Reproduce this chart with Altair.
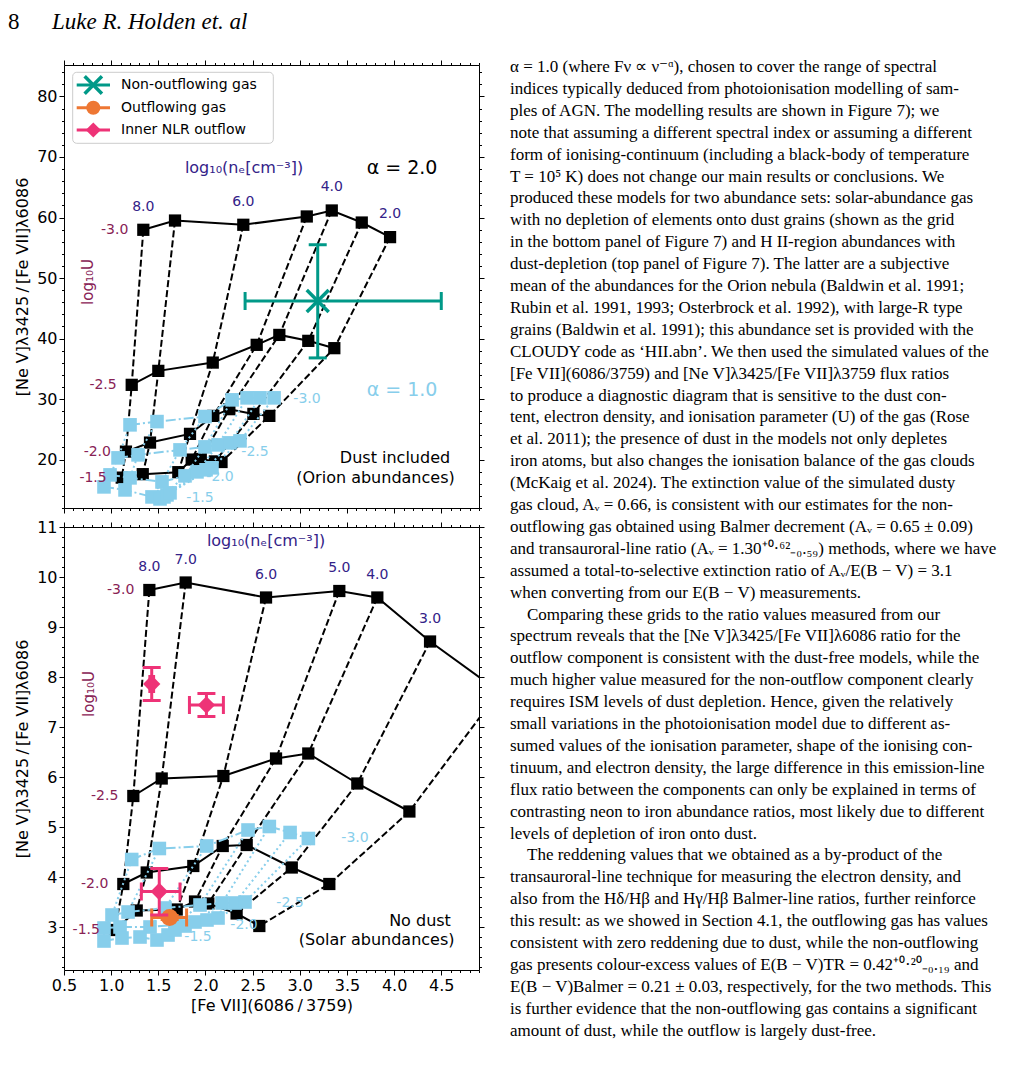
import altair as alt
import numpy as np
import pandas as pd

# ------------------------------------------------------------------ data
DENS = [8.0, 7.0, 6.0, 5.0, 4.0, 3.0, 2.0]          # log10(n_e)
LOGU = [-3.0, -2.5, -2.0, -1.5]                      # log10(U)

# top panel: dust included (Orion abundances), alpha = 2.0
top_a2_x_m30 = [1.341, 1.677, 2.401, 3.074, 3.339, 3.657, 3.957]
top_a2_y_m30 = [57.97, 59.50, 58.80, 60.17, 61.16, 59.17, 56.76]
top_a2_x_m25 = [1.218, 1.500, 2.077, 2.543, 2.783, 3.090, 3.366]
top_a2_y_m25 = [32.35, 34.66, 36.03, 38.96, 40.60, 39.62, 38.41]
top_a2_x_m20 = [1.157, 1.412, 1.836, 2.083, 2.253, 2.508, 2.677]
top_a2_y_m20 = [21.32, 22.81, 24.25, 27.22, 28.33, 27.55, 27.22]
top_a2_x_m15 = [1.112, 1.335, 1.712, 1.854, 1.950, 2.100, 2.170]
top_a2_y_m15 = [17.02, 17.59, 17.92, 20.00, 20.10, 19.70, 19.60]

# top panel, alpha = 1.0
top_a1_x_m30 = [1.200, 1.486, 1.995, 2.282, 2.441, 2.578, 2.727]
top_a1_y_m30 = [25.74, 26.28, 27.11, 29.87, 30.20, 30.20, 30.20]
top_a1_x_m25 = [1.073, 1.285, 1.730, 1.995, 2.133, 2.260, 2.366]
top_a1_y_m25 = [20.28, 20.78, 21.60, 22.10, 22.43, 22.76, 23.09]
top_a1_x_m20 = [0.988, 1.200, 1.539, 1.783, 1.910, 2.006, 2.069]
top_a1_y_m20 = [17.47, 16.98, 16.31, 17.31, 17.97, 18.31, 18.64]
top_a1_x_m15 = [0.924, 1.147, 1.433, 1.518, 1.560, 1.592, 1.624]
top_a1_y_m15 = [15.49, 14.99, 13.83, 13.50, 13.83, 14.16, 14.50]

# bottom panel: no dust (solar abundances), alpha = 2.0
bot_a2_x_m30 = [1.405, 1.790, 2.642, 3.419, 3.822, 4.381, 5.113]
bot_a2_y_m30 = [9.74, 9.89, 9.59, 9.72, 9.59, 8.71, 7.71]
bot_a2_x_m25 = [1.235, 1.536, 2.190, 2.748, 3.090, 3.610, 4.162]
bot_a2_y_m25 = [5.62, 5.97, 6.02, 6.37, 6.47, 5.87, 5.31]
bot_a2_x_m20 = [1.129, 1.377, 1.871, 2.183, 2.437, 2.915, 3.313]
bot_a2_y_m20 = [3.86, 4.09, 4.22, 4.62, 4.64, 4.19, 3.86]
bot_a2_x_m15 = [1.040, 1.271, 1.695, 1.889, 2.030, 2.330, 2.571]
bot_a2_y_m15 = [2.94, 3.33, 3.35, 3.51, 3.47, 3.27, 3.02]

# bottom panel, alpha = 1.0
bot_a1_x_m30 = [1.218, 1.511, 2.013, 2.451, 2.677, 2.897, 3.091]
bot_a1_y_m30 = [4.35, 4.57, 4.62, 4.94, 5.01, 4.89, 4.77]
bot_a1_x_m25 = [1.009, 1.179, 1.571, 1.942, 2.176, 2.313, 2.419]
bot_a1_y_m25 = [3.24, 3.30, 3.38, 3.44, 3.48, 3.48, 3.50]
bot_a1_x_m20 = [0.924, 1.094, 1.412, 1.677, 1.889, 2.016, 2.133]
bot_a1_y_m20 = [2.98, 3.00, 3.00, 3.04, 3.10, 3.14, 3.18]
bot_a1_x_m15 = [0.924, 1.115, 1.306, 1.486, 1.603, 1.677, 1.783]
bot_a1_y_m15 = [2.72, 2.78, 2.80, 2.74, 2.84, 2.94, 3.02]

# measurements
teal_x, teal_y = [3.19], [46.2]
teal_xlo, teal_xhi, teal_ylo, teal_yhi = [2.42], [4.50], [36.8], [55.5]
orange_x, orange_y = [1.62], [3.19]
orange_xlo, orange_xhi, orange_ylo, orange_yhi = [1.43], [1.80], [3.15], [3.23]
pink_x, pink_y = [1.43, 2.01, 1.51], [7.86, 7.44, 3.71]
pink_xlo, pink_xhi = [1.41, 1.83, 1.32], [1.45, 2.19, 1.73]
pink_ylo, pink_yhi = [7.53, 7.21, 3.24], [8.19, 7.67, 4.17]

# axes
X_DOMAIN = [0.5, 4.9]
TOP_Y_DOMAIN = [12.0, 85.2]
BOT_Y_DOMAIN = [2.14, 11.0]
X_MAJOR = [0.5, 1.0, 1.5, 2.0, 2.5, 3.0, 3.5, 4.0, 4.5]
TOP_Y_MAJOR = [20, 30, 40, 50, 60, 70, 80]
BOT_Y_MAJOR = [3, 4, 5, 6, 7, 8, 9, 10, 11]

BODY_LINES = [
    "α = 1.0 (where Fν ∝ ν⁻ᵅ), chosen to cover the range of spectral",
    "indices typically deduced from photoionisation modelling of sam-",
    "ples of AGN. The modelling results are shown in Figure 7); we",
    "note that assuming a different spectral index or assuming a different",
    "form of ionising-continuum (including a black-body of temperature",
    "T = 10⁵ K) does not change our main results or conclusions. We",
    "produced these models for two abundance sets: solar-abundance gas",
    "with no depletion of elements onto dust grains (shown as the grid",
    "in the bottom panel of Figure 7) and H II-region abundances with",
    "dust-depletion (top panel of Figure 7). The latter are a subjective",
    "mean of the abundances for the Orion nebula (Baldwin et al. 1991;",
    "Rubin et al. 1991, 1993; Osterbrock et al. 1992), with large-R type",
    "grains (Baldwin et al. 1991); this abundance set is provided with the",
    "CLOUDY code as ‘HII.abn’. We then used the simulated values of the",
    "[Fe VII](6086/3759) and [Ne V]λ3425/[Fe VII]λ3759 flux ratios",
    "to produce a diagnostic diagram that is sensitive to the dust con-",
    "tent, electron density, and ionisation parameter (U) of the gas (Rose",
    "et al. 2011); the presence of dust in the models not only depletes",
    "iron atoms, but also changes the ionisation balance of the gas clouds",
    "(McKaig et al. 2024). The extinction value of the simulated dusty",
    "gas cloud, Aᵥ = 0.66, is consistent with our estimates for the non-",
    "outflowing gas obtained using Balmer decrement (Aᵥ = 0.65 ± 0.09)",
    "and transauroral-line ratio (Aᵥ = 1.30⁺⁰·⁶²₋₀.₅₉) methods, where we have",
    "assumed a total-to-selective extinction ratio of Aᵥ/E(B − V) = 3.1",
    "when converting from our E(B − V) measurements.",
    "Comparing these grids to the ratio values measured from our",
    "spectrum reveals that the [Ne V]λ3425/[Fe VII]λ6086 ratio for the",
    "outflow component is consistent with the dust-free models, while the",
    "much higher value measured for the non-outflow component clearly",
    "requires ISM levels of dust depletion. Hence, given the relatively",
    "small variations in the photoionisation model due to different as-",
    "sumed values of the ionisation parameter, shape of the ionising con-",
    "tinuum, and electron density, the large difference in this emission-line",
    "flux ratio between the components can only be explained in terms of",
    "contrasting neon to iron abundance ratios, most likely due to different",
    "levels of depletion of iron onto dust.",
    "The reddening values that we obtained as a by-product of the",
    "transauroral-line technique for measuring the electron density, and",
    "also from the Hδ/Hβ and Hγ/Hβ Balmer-line ratios, further reinforce",
    "this result: as we showed in Section 4.1, the outflowing gas has values",
    "consistent with zero reddening due to dust, while the non-outflowing",
    "gas presents colour-excess values of E(B − V)TR = 0.42⁺⁰·²⁰₋₀.₁₉ and",
    "E(B − V)Balmer = 0.21 ± 0.03, respectively, for the two methods. This",
    "is further evidence that the non-outflowing gas contains a significant",
    "amount of dust, while the outflow is largely dust-free.",
]
INDENTED = [25, 36]

# ------------------------------------------------------------------ style
TEAL, ORANGE, PINK = "#009988", "#EE7733", "#EE3377"
LBLUE, INDIGO, WINE = "#87CEEB", "#332288", "#882255"
FONT, SERIF = "DejaVu Sans", "Liberation Serif"
PW, PH = 415, 443                   # plot area of each panel
X0, Y0 = 64, 65                     # page position of the top panel's plot origin
XPATH = "M-1,-1L1,1M-1,1L1,-1"


def grid_df(xrows, yrows):
    recs = []
    for j, (u, xs, ys) in enumerate(zip(LOGU, xrows, yrows)):
        for i, (d, x, y) in enumerate(zip(DENS, xs, ys)):
            recs.append(dict(u=u, d=d, i=i, j=j, x=x, y=y,
                             ul=f"{u:.1f}", dl=f"{d:.1f}"))
    return pd.DataFrame(recs)


def minor_ticks(lo, hi, step, majors):
    vals = np.round(np.arange(lo, hi + 1e-9, step), 4)
    return [float(v) for v in vals if not any(abs(v - m) < 1e-6 for m in majors)]


def axis(orient, values, major, labels, fmt=None, title=None, **kw):
    p = dict(orient=orient, values=values, grid=False, ticks=True,
             tickColor="black", tickWidth=1, tickSize=5 if major else 2.5,
             domain=major, domainColor="black", domainWidth=1,
             labels=labels, labelFont=FONT, labelFontSize=16, labelColor="black",
             labelPadding=2, labelOverlap=False, labelFlush=False, title=title)
    if fmt:
        p["format"] = fmt
    p.update(kw)
    return alt.Axis(**p)


def px_text(df, color, size, font=FONT, align="center", baseline="middle",
            angle=0, style="normal"):
    kw = dict(color=color, fontSize=size, font=font, align=align,
              baseline=baseline, fontStyle=style)
    if angle:
        kw["angle"] = angle
    return alt.Chart(df).mark_text(**kw).encode(
        x=alt.X("px:Q", scale=None, axis=None),
        y=alt.Y("py:Q", scale=None, axis=None),
        text="t:N")


def panel(g2, g1, ydom, ymaj, ymin, yfmt, show_x, panel_y0, errs, notes):
    xs = alt.Scale(domain=X_DOMAIN, nice=False, zero=False)
    ys = alt.Scale(domain=ydom, nice=False, zero=False)
    X = lambda f="x": alt.X(f"{f}:Q", scale=xs, axis=None)
    Y = lambda f="y": alt.Y(f"{f}:Q", scale=ys, axis=None)
    layers = []

    # ---- axes (carried by invisible points)
    base = alt.Chart(g2).mark_point(opacity=0)
    ytitle = dict(titleX=-42, titleY=PH / 2, titleAngle=270, titleAlign="center",
                  titleBaseline="middle", titleFont=FONT, titleFontSize=16,
                  titleFontWeight="normal", titleColor="black")
    xtitle = dict(titleX=PW / 2, titleY=35, titleAlign="center",
                  titleBaseline="middle", titleFont=FONT, titleFontSize=16,
                  titleFontWeight="normal", titleColor="black")
    xmin = minor_ticks(0.5, 4.9, 0.1, X_MAJOR)
    layers.append(base.encode(
        x=alt.X("x:Q", scale=xs, axis=axis("bottom", X_MAJOR, True, show_x, ".1f",
                                         "[Fe VII](6086\u2009/\u20093759)" if show_x else None,
                                         **(xtitle if show_x else {}))),
        y=alt.Y("y:Q", scale=ys, axis=axis("left", ymaj, True, True, yfmt,
                                         "[Ne V]λ3425\u2009/\u2009[Fe VII]λ6086", **ytitle))))
    layers.append(base.encode(
        x=alt.X("x:Q", scale=xs, axis=axis("bottom", xmin, False, False)),
        y=alt.Y("y:Q", scale=ys, axis=axis("left", ymin, False, False))))
    layers.append(base.encode(
        x=alt.X("x:Q", scale=xs, axis=axis("top", X_MAJOR, True, False)),
        y=alt.Y("y:Q", scale=ys, axis=axis("right", ymaj, True, False))))
    layers.append(base.encode(
        x=alt.X("x:Q", scale=xs, axis=axis("top", xmin, False, False)),
        y=alt.Y("y:Q", scale=ys, axis=axis("right", ymin, False, False))))

    # ---- model grids
    for g, color, rdash, cdash, sz in ((g2, "black", None, [7, 3], 150),
                                       (g1, LBLUE, [10, 3, 2, 3], [2, 3], 185)):
        layers.append(alt.Chart(g).mark_line(color=color, strokeWidth=2, strokeDash=cdash,
                                             clip=True).encode(x=X(), y=Y(), detail="d:N", order="j:Q"))
        rkw = dict(color=color, strokeWidth=2, clip=True)
        if rdash:
            rkw["strokeDash"] = rdash
        layers.append(alt.Chart(g).mark_line(**rkw).encode(x=X(), y=Y(), detail="u:N", order="i:Q"))
        layers.append(alt.Chart(g).mark_square(color=color, size=sz, opacity=1,
                                               clip=True).encode(x=X(), y=Y()))

    # ---- grid labels (density on top row, log U at the left)
    layers.append(alt.Chart(g2).transform_filter(
        f"datum.j == 0 && indexof({notes['dens_labels']}, datum.d) >= 0").mark_text(
        color=INDIGO, fontSize=14, font=FONT, dy=-23, baseline="middle").encode(
        x=X(), y=Y(), text="dl:N"))
    layers.append(alt.Chart(g2).transform_filter("datum.i == 0").mark_text(
        color=WINE, fontSize=14, font=FONT, dx=-15, align="right", baseline="middle").encode(
        x=X(), y=Y(), text="ul:N"))

    # ---- measurements with error bars
    for e, color, kind in errs:
        layers.append(alt.Chart(e).mark_rule(color=color, strokeWidth=3).encode(
            x=X("xlo"), x2="xhi:Q", y=Y("y")))
        layers.append(alt.Chart(e).mark_rule(color=color, strokeWidth=3).encode(
            x=X("x"), y=Y("ylo"), y2="yhi:Q"))
        vc = pd.DataFrame({"cx": list(e.xlo) + list(e.xhi), "cy": list(e.y) * 2})
        hc = pd.DataFrame({"cx": list(e.x) * 2, "cy": list(e.ylo) + list(e.yhi)})
        layers.append(alt.Chart(vc).mark_point(shape="M0,-1L0,1", size=324, filled=False,
                                               strokeWidth=3, color=color, opacity=1).encode(
            x=X("cx"), y=Y("cy")))
        layers.append(alt.Chart(hc).mark_point(shape="M-1,0L1,0", size=324, filled=False,
                                               strokeWidth=3, color=color, opacity=1).encode(
            x=X("cx"), y=Y("cy")))
        if kind == "x":
            m = alt.Chart(e).mark_point(shape=XPATH, size=480, filled=False, strokeWidth=3.5,
                                        color=color, opacity=1)
        elif kind == "circle":
            m = alt.Chart(e).mark_circle(size=290, color=color, opacity=1)
        else:
            m = alt.Chart(e).mark_point(shape="diamond", size=300, filled=True,
                                        color=color, opacity=1)
        layers.append(m.encode(x=X(), y=Y()))

    # ---- free annotations (page coordinates -> panel coordinates)
    for items, color, size, extra in notes["texts"]:
        df = pd.DataFrame({"t": [t for t, _, _ in items],
                           "px": [a - X0 for _, a, _ in items],
                           "py": [b - panel_y0 for _, _, b in items]})
        layers.append(px_text(df, color, size, **extra))
    return layers


# ------------------------------------------------------------------ panels
top2 = grid_df([top_a2_x_m30, top_a2_x_m25, top_a2_x_m20, top_a2_x_m15],
               [top_a2_y_m30, top_a2_y_m25, top_a2_y_m20, top_a2_y_m15])
top1 = grid_df([top_a1_x_m30, top_a1_x_m25, top_a1_x_m20, top_a1_x_m15],
               [top_a1_y_m30, top_a1_y_m25, top_a1_y_m20, top_a1_y_m15])
bot2 = grid_df([bot_a2_x_m30, bot_a2_x_m25, bot_a2_x_m20, bot_a2_x_m15],
               [bot_a2_y_m30, bot_a2_y_m25, bot_a2_y_m20, bot_a2_y_m15])
bot1 = grid_df([bot_a1_x_m30, bot_a1_x_m25, bot_a1_x_m20, bot_a1_x_m15],
               [bot_a1_y_m30, bot_a1_y_m25, bot_a1_y_m20, bot_a1_y_m15])

teal = pd.DataFrame(dict(x=teal_x, y=teal_y, xlo=teal_xlo, xhi=teal_xhi, ylo=teal_ylo, yhi=teal_yhi))
orange = pd.DataFrame(dict(x=orange_x, y=orange_y, xlo=orange_xlo, xhi=orange_xhi,
                           ylo=orange_ylo, yhi=orange_yhi))
pink = pd.DataFrame(dict(x=pink_x, y=pink_y, xlo=pink_xlo, xhi=pink_xhi, ylo=pink_ylo, yhi=pink_yhi))

top_notes = {
    "dens_labels": "[8, 6, 4, 2]",
    "texts": [
        ([("log₁₀(nₑ[cm⁻³])", 244, 168)], INDIGO, 16, {}),
        ([("α = 2.0", 402, 168)], "black", 19, {}),
        ([("α = 1.0", 402, 390)], LBLUE, 19, {}),
        ([("Dust included", 395, 458), ("(Orion abundances)", 375.5, 478)], "black", 16, {}),
        ([("log₁₀U", 88, 282)], WINE, 15, {"angle": 270}),
        ([("-3.0", 307, 399), ("-2.5", 255, 452), ("-2.0", 220, 477), ("-1.5", 200, 498)],
         LBLUE, 14, {}),
    ],
}
bot_notes = {
    "dens_labels": "[8, 7, 6, 5, 4, 3]",
    "texts": [
        ([("log₁₀(nₑ[cm⁻³])", 266, 541)], INDIGO, 16, {}),
        ([("No dust", 420, 921), ("(Solar abundances)", 376.7, 940)], "black", 16, {}),
        ([("log₁₀U", 89, 694)], WINE, 15, {"angle": 270}),
        ([("-3.0", 355, 838), ("-2.5", 290, 903), ("-2.0", 244, 925), ("-1.5", 198, 937)],
         LBLUE, 14, {}),
    ],
}

top_layers = panel(top2, top1, TOP_Y_DOMAIN, TOP_Y_MAJOR,
                   minor_ticks(12, 84, 2, TOP_Y_MAJOR), "d", False, Y0,
                   [(teal, TEAL, "x")], top_notes)
bot_layers = panel(bot2, bot1, BOT_Y_DOMAIN, BOT_Y_MAJOR,
                   minor_ticks(2.2, 11, 0.2, BOT_Y_MAJOR), "d", True, Y0 + PH + 19,
                   [(orange, ORANGE, "circle"), (pink, PINK, "diamond")], bot_notes)

# ---- page-level elements placed on the top panel (page coords)
one = pd.DataFrame({"a": [0]})
anchor = alt.Chart(one).mark_rect(opacity=0).encode(
    x=alt.value(8 - X0), x2=alt.value(1017 - X0), y=alt.value(8 - Y0), y2=alt.value(1058 - Y0))

legend = [alt.Chart(one).mark_rect(fill="white", stroke="#cccccc", strokeWidth=1,
                                   cornerRadius=4).encode(
    x=alt.value(72.7 - X0), x2=alt.value(273.3 - X0), y=alt.value(72.3 - Y0), y2=alt.value(143.3 - Y0))]
leg_items = [("Non-outflowing gas", TEAL, 85), ("Outflowing gas", ORANGE, 107.7),
             ("Inner NLR outflow", PINK, 130)]
for k, (name, col, ly) in enumerate(leg_items):
    legend.append(alt.Chart(one).mark_rule(color=col, strokeWidth=3).encode(
        x=alt.value(76.7 - X0), x2=alt.value(110 - X0), y=alt.value(ly - Y0)))
    if k == 0:
        mk = alt.Chart(one).mark_point(shape=XPATH, size=300, filled=False, strokeWidth=3.5,
                                       color=col, opacity=1)
    elif k == 1:
        mk = alt.Chart(one).mark_circle(size=200, color=col, opacity=1)
    else:
        mk = alt.Chart(one).mark_point(shape="diamond", size=230, filled=True, color=col, opacity=1)
    legend.append(mk.encode(x=alt.value(93.3 - X0), y=alt.value(ly - Y0)))
legend.append(px_text(pd.DataFrame({"t": [n for n, _, _ in leg_items],
                                    "px": [121 - X0] * 3,
                                    "py": [ly - Y0 for _, _, ly in leg_items]}),
                      "black", 14, align="left"))

body = pd.DataFrame({"t": BODY_LINES})
body["px"] = [510 - X0 + (17 if i in INDENTED else 0) for i in range(len(BODY_LINES))]
body["py"] = [67 + 21.9 * i - Y0 for i in range(len(BODY_LINES))]
HEAD_BASE = 29
page_text = [
    px_text(body, "black", 17, font=SERIF, align="left"),
    px_text(pd.DataFrame({"t": ["8"], "px": [8 - X0], "py": [HEAD_BASE - Y0]}), "black", 23,
            font=SERIF, align="left", baseline="alphabetic"),
    px_text(pd.DataFrame({"t": ["Luke R. Holden et. al"], "px": [52 - X0], "py": [HEAD_BASE - Y0]}),
            "black", 23, font=SERIF, align="left", baseline="alphabetic", style="italic"),
]

top = alt.layer(anchor, *top_layers, *legend, *page_text).resolve_axis(
    x="independent", y="independent").properties(width=PW, height=PH)
bottom = alt.layer(*bot_layers).resolve_axis(
    x="independent", y="independent").properties(width=PW, height=PH)

chart = alt.vconcat(top, bottom, spacing=19, bounds="flush").properties(
    padding=0, background="white").configure_view(strokeWidth=0)

chart.save("out.html", embed_options={"renderer": "svg", "actions": False})
